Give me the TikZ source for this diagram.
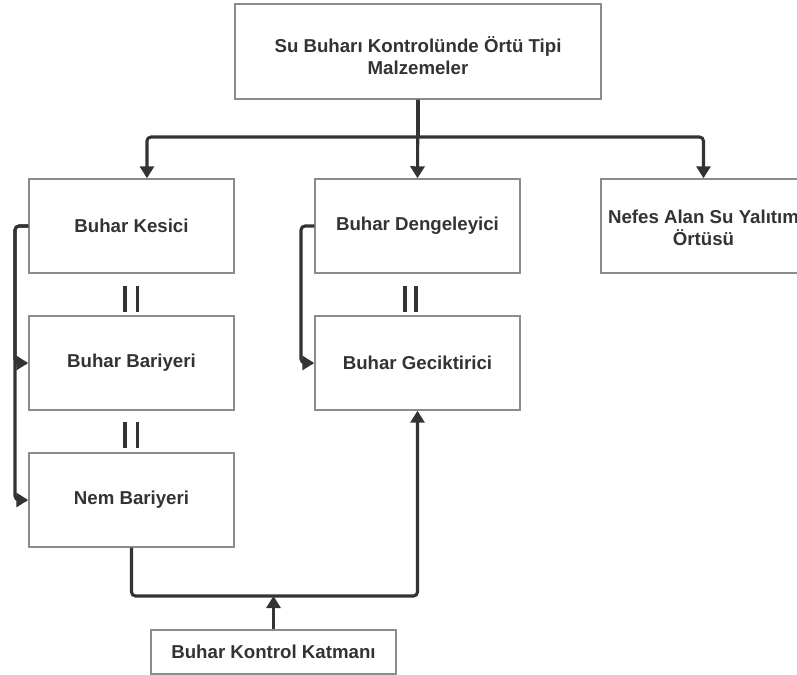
\documentclass[tikz,border=0pt]{standalone}
\usepackage{fontspec}
\setmainfont{Liberation Sans}
\usetikzlibrary{arrows.meta,calc}
\definecolor{ink}{HTML}{333333}
\definecolor{edgegray}{HTML}{8C8C8C}
\begin{document}
\begin{tikzpicture}[x=0.75pt,y=-0.75pt,
  boxtext/.style={align=center,font=\bfseries\fontsize{14}{16.5}\selectfont,text=ink},
  box/.style={draw=edgegray,line width=1.1pt,fill=white,inner sep=0pt,
    minimum width=153.75pt,minimum height=70.5pt,boxtext},
  conn/.style={draw=ink,line width=2.3pt,rounded corners=3pt,
    -{Triangle[length=9pt,width=10.5pt]}},
  plainline/.style={draw=ink,line width=2.3pt,rounded corners=3pt},
  eqbar/.style={draw=ink,line width=2.6pt}]
\path[use as bounding box,fill=white] (0,0) rectangle (797,675);
\clip (0,0) rectangle (797,675);

\node[box,minimum width=274.5pt,minimum height=71.25pt,
  label={[boxtext,yshift=-3pt]center:{Su Buharı Kontrolünde Örtü Tipi\\Malzemeler}}]
  (top) at (418,51.5) {};
\node[box] (kesici) at (131.5,226) {Buhar Kesici};
\node[box] (denge) at (417.5,226) {Buhar Dengeleyici};
\node[box,label={[boxtext,yshift=-1.5pt]center:{Nefes Alan Su Yalıtım\\Örtüsü}}]
  (nefes) at (703.5,226) {};
\node[box] (bariyer) at (131.5,363) {Buhar Bariyeri};
\node[box] (gecik) at (417.5,363) {Buhar Geciktirici};
\node[box] (nem) at (131.5,500) {Nem Bariyeri};
\node[box,minimum width=183.75pt,minimum height=33pt] (kontrol) at (273.5,652)
  {Buhar Kontrol Katmanı};

% top distribution
\coordinate (split) at (418,137);
\draw[plainline] (top.south) -- (split);
\draw[conn] (split) -| ([xshift=11.6pt]kesici.north);
\draw[conn] (top.south) -- (denge.north);
\draw[conn] (split) -| (nefes.north);

% left bracket
\coordinate (lk) at (15,226);
\draw[conn] (kesici.west) -- (lk) |- (bariyer.west);
\draw[conn] (kesici.west) -- (lk) |- (nem.west);

% middle bracket
\coordinate (ld) at (301,226);
\draw[conn] (denge.west) -- (ld) |- (gecik.west);

% bottom
\coordinate (bj) at (273.5,596);
\draw[conn] (nem.south) |- (bj) -| (gecik.south);
\draw[conn] (kontrol.north) -- (bj);

% parallel marks
\draw[eqbar] (125,286) -- (125,312);
\draw[eqbar] (137.5,286) -- (137.5,312);
\draw[eqbar] (125,422) -- (125,448);
\draw[eqbar] (137.5,422) -- (137.5,448);
\draw[eqbar] (405,286) -- (405,312);
\draw[eqbar] (416,286) -- (416,312);
\end{tikzpicture}
\end{document}
